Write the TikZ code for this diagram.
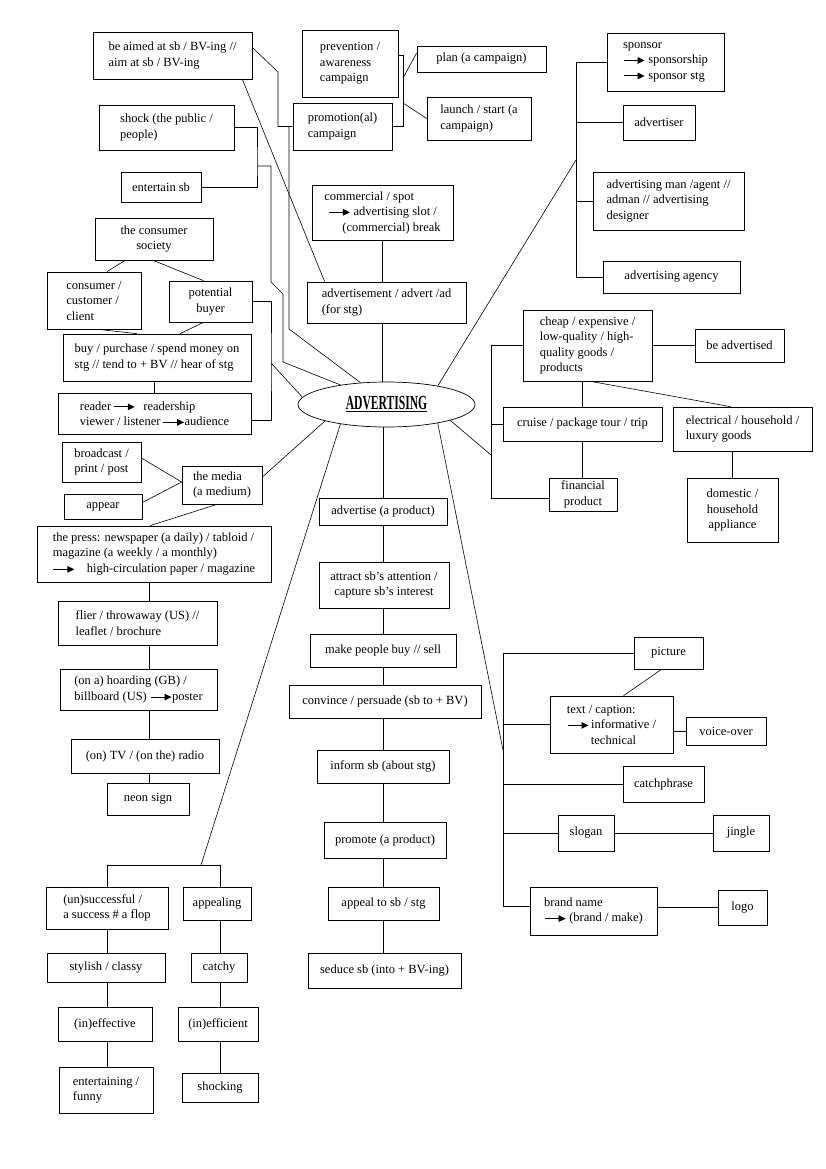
\documentclass[tikz,border=0pt]{standalone}
\usepackage{fontspec}
\setmainfont{Liberation Serif}
\usepackage{graphicx}
\usetikzlibrary{arrows.meta,shapes.geometric}
\newcommand{\mapfont}{\fontsize{12.5}{15.5}\selectfont}
\newcommand{\goesto}{\tikz[baseline=-0.55ex]\draw[line width=1.1pt,-{Triangle[length=7pt,width=6.5pt]}] (0pt,0pt) -- (21pt,0pt);}
\tikzset{
  % plain word box, sized by hand
  bx/.style   = {rectangle, draw, line width=0.7pt, inner xsep=6pt, inner ysep=1pt,
                 font=\mapfont, align=left},
  cbx/.style  = {bx, align=center},
  sz/.style 2 args = {minimum width=#1pt, minimum height=#2pt},
  hubnode/.style = {ellipse, draw, line width=0.7pt, inner sep=0pt},
}

\begin{document}
\begin{tikzpicture}[x=1pt,y=-1pt,line width=0.6pt]
\useasboundingbox (0,0) rectangle (826,1169);

% centre
\node[hubnode, minimum width=177pt, minimum height=45pt] (hub) at (386.5,404.5)
  {\underline{\scalebox{0.58}[1]{\fontsize{20}{20}\selectfont\bfseries ADVERTISING}}};

% campaigns
\node[bx, sz={159}{47}]  (aimed)  at (172.5,55.5)  {be aimed at sb / BV-ing //\\aim at sb / BV-ing};
\node[bx, sz={96}{67}]   (prev)   at (350,63.5)    {prevention /\\awareness\\campaign};
\node[bx, sz={99}{47}]   (promo)  at (342.5,126.5) {promotion(al)\\campaign};
\node[bx, sz={129}{26}]  (plan)   at (481.5,59)    {plan (a campaign)};
\node[bx, sz={104}{43}]  (launch) at (479,118.5)   {launch / start (a\\campaign)};
\coordinate (ca1) at (278,72);
\coordinate (ca2) at (289,126.5);
\coordinate (ca3) at (289,329);
\coordinate (pl1) at (403,55);
\coordinate (pl2) at (403,126.5);
\coordinate (pl3) at (403,78);
\coordinate (pl4) at (403,103);
\draw ([yshift=8pt]aimed.east) -- (ca1) |- (promo.west);
\draw (ca2) -- (ca3) -- (hub.140);
\draw (prev.east |- pl1) -- (pl1) -- (pl2) -- (promo.east |- pl2);
\draw (pl3) -- ([yshift=6pt]plan.west);
\draw (pl4) -- (launch.west);

% shock / entertain
\node[bx, sz={135}{45}]  (shock) at (166.5,127.5) {shock (the public /\\people)};
\node[cbx, sz={80}{30}]  (enter) at (161,187)     {entertain sb};
\coordinate (sh1) at (257,166);
\coordinate (sh2) at (271,282);
\coordinate (sh3) at (283,294);
\coordinate (sh4) at (283,362);
\draw (shock.east) -| (sh1) |- (enter.east);
\draw (sh1) -| (sh2) -- (sh3) -- (sh4) -- (hub.157);

% commercial / advert
\node[bx, sz={141}{55}]  (spot)   at (382.5,212.5) {commercial / spot\\\hspace*{4pt}\goesto\ advertising slot /\\\hspace*{18pt}(commercial) break};
\node[bx, sz={159}{41}]  (advert) at (386.5,302.5) {advertisement / advert /ad\\(for stg)};
\draw (spot.south) -- (spot.south |- advert.north);
\draw (advert.south -| spot.south) -- (hub.north -| spot.south);
\draw ([xshift=-10pt]aimed.south east) -- ([xshift=18pt]advert.north west);

% consumers
\node[cbx, sz={118}{42}] (society)  at (154,239)     {the consumer\\society};
\node[bx, sz={94}{57}]   (consumer) at (94,300.5)    {consumer /\\customer /\\client};
\node[cbx, sz={83}{41}]  (buyer)    at (210.5,301.5) {potential\\buyer};
\node[bx, sz={188}{47}]  (buy)      at (157,357.5)   {buy / purchase / spend money on\\stg // tend to + BV // hear of stg};
\node[bx, sz={193}{41}]  (reader)   at (154.5,413.5) {reader\,\goesto\hspace{8pt}readership\\viewer / listener\,\goesto audience};
\coordinate (by1) at (271,363);
\draw ([xshift=-29pt]society.south) -- ([xshift=13pt]consumer.north);
\draw ([xshift=-1pt]society.south) -- ([xshift=-7pt]buyer.north);
\draw ([xshift=4pt]consumer.south) -- ([xshift=-20pt]buy.north);
\draw ([xshift=-7pt]buyer.south) -- ([xshift=23pt]buy.north);
\draw (reader.north) -- (reader.north |- buy.south);
\draw (buyer.east) -| (by1) |- ([yshift=-7pt]reader.east);
\draw (by1) -- (hub.175);

% people in the business
\node[bx, sz={117}{58}]  (sponsor) at (665.5,62)  {sponsor\\\goesto\ sponsorship\\\goesto\ sponsor stg};
\node[cbx, sz={72}{35}]  (adver)   at (659,122.5) {advertiser};
\node[bx, sz={151}{58}]  (adman)   at (668.5,201) {advertising man /agent //\\adman // advertising\\designer};
\node[cbx, sz={137}{32}] (agency)  at (671.5,277) {advertising agency};
\coordinate (sp1) at (576,62);
\coordinate (sp2) at (576,277);
\coordinate (sp3) at (576,160);
\draw (sponsor.west) -- (sp1) -- (sp2) -- (agency.west);
\foreach \n in {adver,adman} {\draw (\n.west) -- (\n.west -| sp1);}
\draw (sp3) -- (hub.20);

% products
\node[bx, sz={129}{71}]  (cheap)     at (587.5,345.5) {cheap / expensive /\\low-quality / high-\\quality goods /\\products};
\node[cbx, sz={89}{33}]  (beadv)     at (739.5,345.5) {be advertised};
\node[cbx, sz={159}{34}] (cruise)    at (582.5,424)   {cruise / package tour / trip};
\node[bx, sz={139}{44}]  (electric)  at (742.5,429)   {electrical / household /\\luxury goods};
\node[cbx, sz={68}{33}]  (finance)   at (583,494.5)   {financial\\product};
\node[cbx, sz={91}{64}]  (appliance) at (732.5,510)   {domestic /\\household\\appliance};
\coordinate (pd1) at (491,345.5);
\coordinate (pd2) at (491,498);
\coordinate (pd3) at (491,455);
\draw (cheap.west) -- (pd1) -- (pd2) -- (finance.west |- pd2);
\draw (cruise.west) -- (cruise.west -| pd1);
\draw (pd3) -- (hub.-14);
\draw (cheap.east) -- (beadv.west);
\draw (cruise.north) -- (cruise.north |- cheap.south);
\draw (cruise.south) -- (cruise.south |- finance.north);
\draw ([xshift=3pt]cheap.south) -- ([xshift=-12pt]electric.north);
\draw (appliance.north) -- (appliance.north |- electric.south);

% media
\node[bx, sz={79}{40}]   (bcast)  at (101.5,462)  {broadcast /\\print / post};
\node[cbx, sz={78}{25}]  (appear) at (103,506.5)  {appear};
\node[bx, sz={80}{38}]   (media)  at (222,485)    {the media\\(a medium)};
\node[bx, sz={234}{56}]  (press)  at (154,554)    {the press: newspaper (a daily) / tabloid /\\magazine (a weekly / a monthly)\\\goesto\hspace{12pt}high-circulation paper / magazine};
\node[bx, sz={159}{44}]  (flier)  at (137.5,623)  {flier / throwaway (US) //\\leaflet / brochure};
\node[bx, sz={157}{41}]  (hoard)  at (138.5,689.5) {(on a) hoarding (GB) /\\billboard (US) \goesto poster};
\node[cbx, sz={148}{34}] (tv)     at (145,756)    {(on) TV / (on the) radio};
\node[cbx, sz={82}{32}]  (neon)   at (148,799)    {neon sign};
\coordinate (col) at (149,0);
\draw ([yshift=4pt]bcast.east) -- ([yshift=3pt]media.west);
\draw ([yshift=4pt]appear.east) -- ([yshift=3pt]media.west);
\draw ([xshift=-5pt]media.south) -- ([xshift=-4pt]press.north);
\draw ([yshift=8pt]media.east) -- (hub.195);
\foreach \a/\b in {press/flier,flier/hoard,hoard/tv,tv/neon} {\draw (\a.south -| col) -- (\b.north -| col);}

% verbs
\node[cbx, sz={128}{27}] (advertise) at (383,511.5) {advertise (a product)};
\node[cbx, sz={130}{46}] (attract)   at (384,585)   {attract sb's attention /\\capture sb's interest};
\node[cbx, sz={146}{33}] (makebuy)   at (383,650.5) {make people buy // sell};
\node[cbx, sz={192}{33}] (convince)  at (385,701.5) {convince / persuade (sb to + BV)};
\node[cbx, sz={132}{33}] (inform)    at (383,766.5) {inform sb (about stg)};
\node[cbx, sz={122}{36}] (promote)   at (385,840)   {promote (a product)};
\node[cbx, sz={111}{33}] (appeal)    at (383.5,903.5) {appeal to sb / stg};
\node[cbx, sz={153}{35}] (seduce)    at (384.5,970.5) {seduce sb (into + BV-ing)};
\coordinate (mid) at (383,0);
\foreach \a/\b in {hub/advertise,advertise/attract,attract/makebuy,makebuy/convince,
                   convince/inform,inform/promote,promote/appeal,appeal/seduce}
  {\draw (\a.south -| mid) -- (\b.north -| mid);}

% adjectives
\node[bx, sz={122}{42}]  (success)   at (107,908)    {(un)successful /\\a success \# a flop};
\node[cbx, sz={68}{33}]  (appealing) at (217,903.5)  {appealing};
\node[cbx, sz={118}{29}] (stylish)   at (106,967.5)  {stylish / classy};
\node[cbx, sz={56}{29}]  (catchy)    at (219,967.5)  {catchy};
\node[cbx, sz={94}{34}]  (effective) at (105,1024)   {(in)effective};
\node[cbx, sz={80}{34}]  (efficient) at (218,1024)   {(in)efficient};
\node[bx, sz={94}{46}]   (funny)     at (106,1090)   {entertaining /\\funny};
\node[cbx, sz={76}{29}]  (shocking)  at (220,1087.5) {shocking};
\coordinate (qa) at (201,865);
\coordinate (qb) at (107,865);
\coordinate (qc) at (220,865);
\draw (hub.203) -- (qa);
\draw (success.north -| qb) |- (qc) -- (appealing.north -| qc);
\foreach \a/\b in {success/stylish,stylish/effective,effective/funny} {\draw (\a.south -| qb) -- (\b.north -| qb);}
\foreach \a/\b in {appealing/catchy,catchy/efficient,efficient/shocking} {\draw (\a.south -| qc) -- (\b.north -| qc);}

% the ad itself
\node[cbx, sz={69}{32}]  (picture) at (668.5,653) {picture};
\node[bx, sz={123}{57}]  (caption) at (611.5,724.5) {text / caption:\\\goesto\,informative /\\\hspace*{24pt}technical};
\node[cbx, sz={80}{28}]  (voice)   at (726,731)   {voice-over};
\node[cbx, sz={81}{36}]  (catch)   at (663.5,784) {catchphrase};
\node[cbx, sz={56}{36}]  (slogan)  at (586,833)   {slogan};
\node[cbx, sz={56}{36}]  (jingle)  at (741,833)   {jingle};
\node[bx, sz={127}{48}]  (brand)   at (593.5,911) {brand name\\\goesto\ (brand / make)};
\node[cbx, sz={49}{35}]  (logo)    at (742.5,907.5) {logo};
\coordinate (rb1) at (503,653);
\coordinate (rb2) at (503,906);
\coordinate (rb3) at (503,750);
\draw (picture.west) -- (rb1) -- (rb2) -- (brand.west |- rb2);
\foreach \n in {caption,catch,slogan} {\draw (\n.west) -- (\n.west -| rb1);}
\draw (hub.-20) -- (rb3);
\draw (slogan.east) -- (jingle.west);
\draw (logo.west) -- (logo.west -| brand.east);
\draw (voice.west) -- (voice.west -| caption.east);
\draw ([xshift=-7pt]picture.south) -- ([xshift=12pt]caption.north);
\end{tikzpicture}
\end{document}
